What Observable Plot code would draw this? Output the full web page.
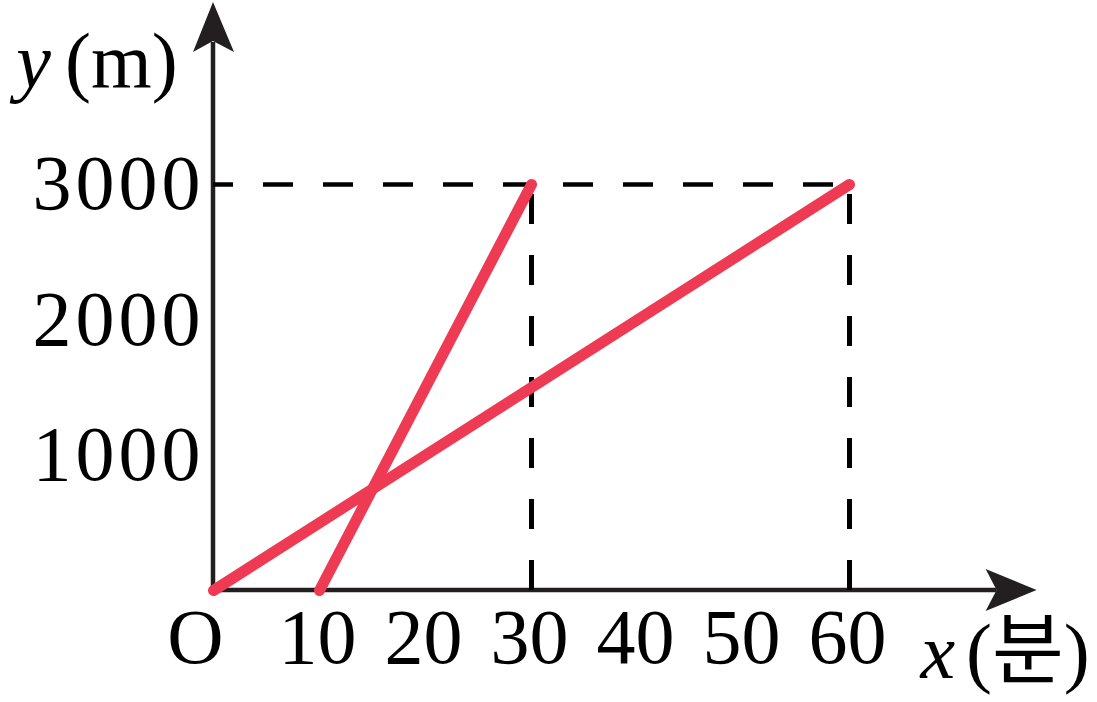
<!DOCTYPE html>
<html>
<head>
<meta charset="utf-8">
<script src="https://cdn.jsdelivr.net/npm/d3@7"></script>
<script src="https://cdn.jsdelivr.net/npm/@observablehq/plot@0.6"></script>
<style>
  html, body { margin: 0; padding: 0; background: #fff; }
</style>
</head>
<body>
<div id="chart"></div>
<script>
// ---- data ----
const xTicks = [10, 20, 30, 40, 50, 60];
const yTicks = [1000, 2000, 3000];
const seriesA = [{x: 0, y: 0}, {x: 60, y: 3000}];
const seriesB = [{x: 10, y: 0}, {x: 30, y: 3000}];
const guideXs = [30, 60];
const guideY = 3000;
const xAxisEnd = 77.7;   // arrow tip (x units)
const yAxisEnd = 4345;   // arrow tip (y units)
const xTitle = ["x", "(분)"];
const yTitle = ["y", "(m)"];

const lineData = [
  ...seriesA.map(d => ({...d, s: "A"})),
  ...seriesB.map(d => ({...d, s: "B"}))
];

const RED = "#ee3a52";
const INK = "#231f20";
const FONT = "'Liberation Serif', 'Noto Sans CJK KR', serif";
const FS = 78;

function axes(index, scales) {
  const X = scales.x, Y = scales.y;
  const g = d3.create("svg:g");
  const ox = X(0), oy = Y(0);
  const xt = X(xAxisEnd), yt = Y(yAxisEnd);
  g.append("line").attr("x1", ox).attr("y1", oy).attr("x2", xt - 40).attr("y2", oy)
    .attr("stroke", INK).attr("stroke-width", 4.5);
  g.append("line").attr("x1", ox).attr("y1", oy).attr("x2", ox).attr("y2", yt + 40)
    .attr("stroke", INK).attr("stroke-width", 4.5);
  g.append("path")
    .attr("d", `M${xt},${oy} L${xt - 51},${oy - 21} L${xt - 40},${oy} L${xt - 51},${oy + 21} Z`)
    .attr("fill", INK);
  g.append("path")
    .attr("d", `M${ox},${yt} L${ox - 20},${yt + 50} L${ox},${yt + 39} L${ox + 21},${yt + 50} Z`)
    .attr("fill", INK);
  return g.node();
}

const plot = Plot.plot({
  width: 1097,
  height: 702,
  marginLeft: 213,
  marginRight: 248,
  marginTop: 184,
  marginBottom: 112,
  x: {domain: [0, 60], axis: null},
  y: {domain: [0, 3000], axis: null},
  style: {background: "#fff", overflow: "visible"},
  marks: [
    axes,
    Plot.ruleY([guideY], {x1: 0, x2: 60, stroke: "#000", strokeWidth: 4.5, strokeDasharray: "30 30", strokeDashoffset: 10}),
    Plot.ruleX(guideXs, {y1: 0, y2: guideY, stroke: "#000", strokeWidth: 5, strokeDasharray: "30 31"}),
    Plot.line(lineData, {x: "x", y: "y", z: "s", stroke: RED, strokeWidth: 11, strokeLinecap: "round"}),
    Plot.text(yTicks, {x: 0, y: d => d, text: d => String(d), dx: -9, textAnchor: "end", fontSize: FS, fontFamily: FONT, fill: "#000", style: "letter-spacing: 4px"}),
    Plot.text(xTicks, {x: d => d, y: 0, text: d => String(d), dx: -2, dy: 72, lineAnchor: "bottom", fontSize: FS, fontFamily: FONT, fill: "#000"}),
    Plot.text(["O"], {x: 0, y: 0, text: d => d, dx: -18, dy: 72, lineAnchor: "bottom", fontSize: FS, fontFamily: FONT, fill: "#000"}),
    Plot.text([yTitle[0]], {x: -18.6, y: 3717, text: d => d, textAnchor: "start", lineAnchor: "bottom", fontSize: FS, fontStyle: "italic", fontFamily: FONT, fill: "#000"}),
    Plot.text([yTitle[1]], {x: -14, y: 3717, text: d => d, textAnchor: "start", lineAnchor: "bottom", fontSize: FS, fontFamily: FONT, fill: "#000"}),
    Plot.text([xTitle[0]], {x: 66.7, y: -650, text: d => d, textAnchor: "start", lineAnchor: "bottom", fontSize: FS, fontStyle: "italic", fontFamily: FONT, fill: "#000"}),
    Plot.text([xTitle[1]], {x: 71.0, y: -650, text: d => d, textAnchor: "start", lineAnchor: "bottom", fontSize: FS, fontFamily: FONT, fill: "#000"})
  ]
});
// apply letter spacing to y tick labels (style option above is ignored on marks)
d3.select(plot).selectAll("g[aria-label='text']").filter((d, i) => i === 0)
  .attr("letter-spacing", "4px");
document.getElementById("chart").appendChild(plot);
</script>
</body>
</html>
